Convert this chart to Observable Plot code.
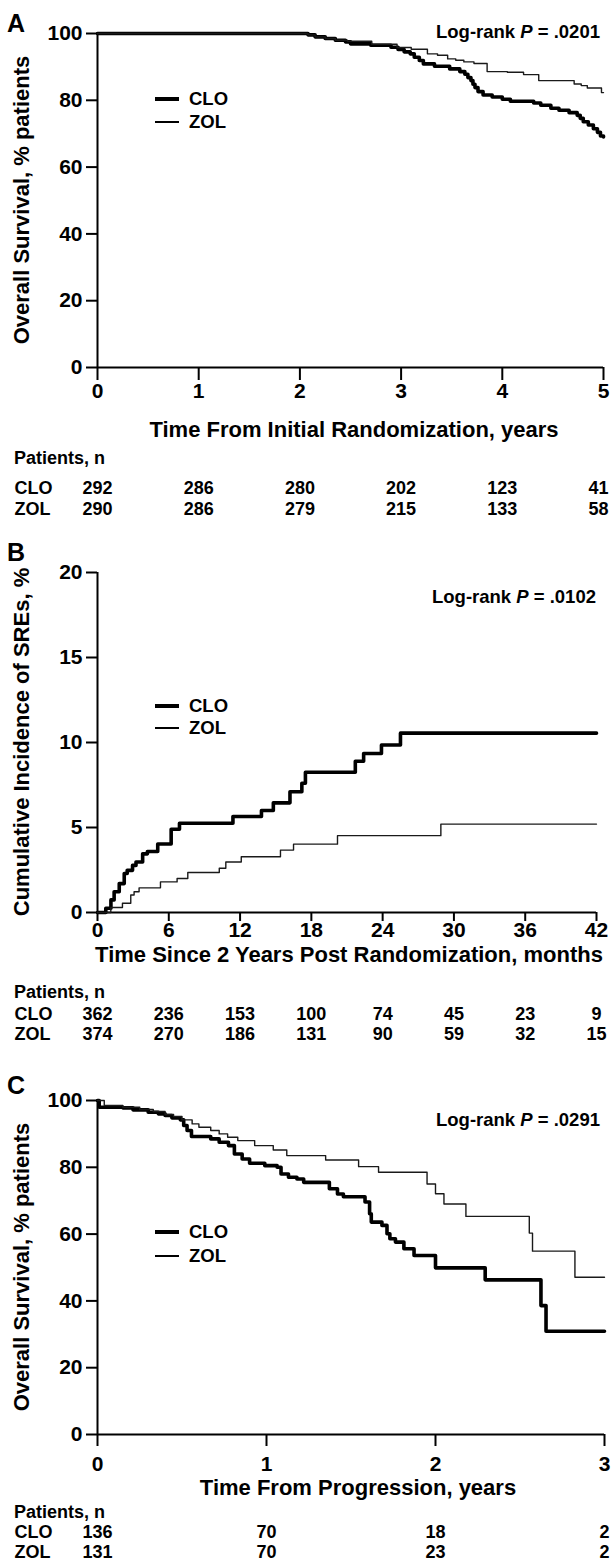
<!DOCTYPE html>
<html>
<head>
<meta charset="utf-8">
<script src="https://cdn.jsdelivr.net/npm/d3@7"></script>
<script src="https://cdn.jsdelivr.net/npm/@observablehq/plot@0.6"></script>
<style>
html, body { margin: 0; padding: 0; background: #fff; }
#root { position: relative; width: 611px; height: 1565px; overflow: hidden;
  font-family: "Liberation Sans", Arial, Helvetica, sans-serif; font-weight: bold; color: #000; }
.abs { position: absolute; white-space: nowrap; line-height: 1; }
#root svg { position: absolute; left: 0; overflow: visible; }
g[aria-label$="-axis tick"] { stroke-width: 2px; }
g[aria-label="x-axis"] .tick line, g[aria-label="y-axis"] .tick line { stroke-width: 2px; }
</style>
</head>
<body>
<div id="root"></div>
<script>
// ---------------- DATA ----------------
// Panel A: overall survival from initial randomization (years, % patients)
const timeA_CLO = [0, 2.08, 2.15, 2.25, 2.35, 2.45, 2.5, 2.7, 2.9, 2.97, 3.03, 3.09, 3.13, 3.18, 3.22, 3.33, 3.48, 3.58, 3.63, 3.66, 3.69, 3.71, 3.73, 3.76, 3.81, 3.9, 4.0, 4.08, 4.31, 4.38, 4.48, 4.56, 4.66, 4.74, 4.77, 4.8, 4.85, 4.9, 4.94, 4.97, 5.0];
const survA_CLO = [100, 99.6, 99.0, 98.5, 98.0, 97.5, 96.9, 96.5, 95.9, 95.2, 94.5, 93.9, 92.9, 91.9, 90.9, 90.2, 89.4, 88.6, 87.8, 86.8, 85.9, 84.8, 83.8, 82.6, 81.6, 81.0, 80.3, 79.7, 79.2, 78.5, 77.6, 77.0, 76.3, 75.5, 74.6, 73.6, 72.6, 71.5, 70.4, 69.3, 69.0];
const timeA_ZOL = [0, 2.08, 2.15, 2.25, 2.35, 2.47, 2.71, 2.96, 3.1, 3.26, 3.36, 3.46, 3.54, 3.62, 3.72, 3.85, 4.05, 4.21, 4.36, 4.71, 4.78, 4.84, 4.98, 5.0];
const survA_ZOL = [100, 99.6, 99.0, 98.5, 98.0, 97.7, 96.8, 95.8, 95.3, 93.9, 93.5, 92.4, 92.0, 91.5, 91.0, 88.6, 88.4, 87.7, 85.9, 84.9, 84.4, 83.7, 82.3, 82.3];
const ticksA_x = [0, 1, 2, 3, 4, 5];
const ticksA_y = [0, 20, 40, 60, 80, 100];
const riskA_CLO = [292, 286, 280, 202, 123, 41];
const riskA_ZOL = [290, 286, 279, 215, 133, 58];

// Panel B: cumulative incidence of SREs (months, %)
const timeB_CLO = [0, 0.7, 1.13, 1.4, 1.83, 2.25, 2.5, 2.95, 3.24, 3.8, 4.2, 5.07, 6.2, 6.9, 11.4, 13.8, 14.8, 16.2, 17.2, 17.5, 21.7, 22.4, 23.9, 25.5, 42];
const incB_CLO = [0, 0.25, 0.74, 1.22, 1.7, 2.29, 2.48, 2.77, 2.97, 3.45, 3.59, 4.03, 4.9, 5.25, 5.65, 6.0, 6.45, 7.1, 7.6, 8.25, 8.9, 9.35, 9.85, 10.55, 10.55];
const timeB_ZOL = [0, 1.12, 2.1, 2.8, 3.08, 3.5, 5.3, 6.7, 7.6, 10.25, 10.8, 12.1, 15.4, 16.5, 20.2, 28.9, 42];
const incB_ZOL = [0, 0.29, 0.54, 1.03, 1.22, 1.45, 1.8, 2.0, 2.35, 2.6, 2.97, 3.28, 3.67, 4.02, 4.52, 5.2, 5.2];
const ticksB_x = [0, 6, 12, 18, 24, 30, 36, 42];
const ticksB_y = [0, 5, 10, 15, 20];
const riskB_CLO = [362, 236, 153, 100, 74, 45, 23, 9];
const riskB_ZOL = [374, 270, 186, 131, 90, 59, 32, 15];

// Panel C: overall survival from progression (years, % patients)
const timeC_CLO = [0, 0.01, 0.15, 0.21, 0.30, 0.36, 0.40, 0.44, 0.49, 0.51, 0.53, 0.556, 0.67, 0.72, 0.775, 0.81, 0.856, 0.90, 0.99, 1.063, 1.086, 1.13, 1.18, 1.22, 1.372, 1.42, 1.455, 1.583, 1.61, 1.62, 1.683, 1.713, 1.73, 1.763, 1.813, 1.873, 2.0, 2.294, 2.624, 2.654, 3.0];
const survC_CLO = [100, 98.0, 97.8, 97.2, 96.5, 96.0, 95.5, 94.8, 94.2, 92.5, 91.0, 89.2, 88.5, 87.5, 86.5, 84.0, 82.5, 81.2, 80.5, 80.0, 78.0, 77.0, 76.5, 75.5, 73.6, 72.0, 71.2, 69.6, 66.1, 63.6, 62.6, 60.1, 58.6, 57.6, 55.6, 53.6, 49.9, 46.3, 38.6, 30.9, 30.9];
const timeC_ZOL = [0, 0.04, 0.15, 0.25, 0.33, 0.40, 0.45, 0.50, 0.56, 0.60, 0.67, 0.72, 0.77, 0.83, 0.93, 1.04, 1.12, 1.35, 1.545, 1.663, 1.95, 2.0, 2.05, 2.18, 2.555, 2.574, 2.825, 3.0];
const survC_ZOL = [100, 98.5, 98.0, 97.3, 96.7, 95.8, 95.2, 94.2, 93.0, 92.0, 91.0, 90.0, 89.0, 88.0, 86.5, 85.2, 83.5, 82.2, 80.2, 78.5, 75.0, 72.1, 69.0, 65.3, 60.3, 54.9, 47.1, 47.1];
const ticksC_x = [0, 1, 2, 3];
const ticksC_y = [0, 20, 40, 60, 80, 100];
const riskC_CLO = [136, 70, 18, 2];
const riskC_ZOL = [131, 70, 23, 2];

const groups = ["CLO", "ZOL"];
const panelLetters = ["A", "B", "C"];
const xTitles = ["Time From Initial Randomization, years", "Time Since 2 Years Post Randomization, months", "Time From Progression, years"];
const yTitles = ["Overall Survival, % patients", "Cumulative Incidence of SREs, %", "Overall Survival, % patients"];
const pValues = [".0201", ".0102", ".0291"];
const riskTitle = "Patients, n";

// ---------------- LAYOUT ----------------
const FONT = '"Liberation Sans", Arial, Helvetica, sans-serif';
const W = 611;
const root = document.getElementById("root");

const panels = [
  { letter: panelLetters[0], letterY: 23,
    xt: timeA_CLO, clo: survA_CLO, xtz: timeA_ZOL, zol: survA_ZOL,
    xTicks: ticksA_x, yTicks: ticksA_y, yDomain: [0, 100], xDomain: [0, 5],
    riskC: riskA_CLO, riskZ: riskA_ZOL, lastDx: -5,
    svgTop: 0, mt: 33, inner: 334, mb: 40, mr: 8, xTickSize: 13, xTickPad: 3,
    xTitleY: 430, xTitleX: 354, yTitleY: 200, pY: 32, pRight: 600,
    legY: [99, 122], patY: 458, tabTop: 475, tabRows: [13, 34], p: pValues[0],
    xTitle: xTitles[0], yTitle: yTitles[0] },
  { letter: panelLetters[1], letterY: 552,
    xt: timeB_CLO, clo: incB_CLO, xtz: timeB_ZOL, zol: incB_ZOL,
    xTicks: ticksB_x, yTicks: ticksB_y, yDomain: [0, 20], xDomain: [0, 42],
    riskC: riskB_CLO, riskZ: riskB_ZOL, lastDx: 0,
    svgTop: 540, mt: 32, inner: 340, mb: 36, mr: 15, xTickSize: 9, xTickPad: 1,
    xTitleY: 955, xTitleX: 349, yTitleY: 742, pY: 597, pRight: 596,
    legY: [706, 728], patY: 992, tabTop: 1001, tabRows: [13, 33], p: pValues[1],
    xTitle: xTitles[1], yTitle: yTitles[1] },
  { letter: panelLetters[2], letterY: 1085,
    xt: timeC_CLO, clo: survC_CLO, xtz: timeC_ZOL, zol: survC_ZOL,
    xTicks: ticksC_x, yTicks: ticksC_y, yDomain: [0, 100], xDomain: [0, 3],
    riskC: riskC_CLO, riskZ: riskC_ZOL, lastDx: 0,
    svgTop: 1070, mt: 30, inner: 334, mb: 45, mr: 7, xTickSize: 12, xTickPad: 10,
    xTitleY: 1488, xTitleX: 358, yTitleY: 1267, pY: 1120, pRight: 600,
    legY: [1232, 1256], patY: 1512, tabTop: 1519, tabRows: [13, 33], p: pValues[2],
    xTitle: xTitles[2], yTitle: yTitles[2] }
];

function addText(html, o) {
  const d = document.createElement("div");
  d.className = "abs";
  d.innerHTML = html;
  d.style.fontSize = o.size + "px";
  d.style.top = (o.cy - 0.49 * o.size) + "px";
  if (o.right != null) { d.style.right = (W - o.right) + "px"; }
  else if (o.cx != null) { d.style.left = (o.cx - 300) + "px"; d.style.width = "600px"; d.style.textAlign = "center"; }
  else { d.style.left = o.left + "px"; }
  root.appendChild(d);
  return d;
}

function addYTitle(text, cx, cy, size) {
  const d = document.createElement("div");
  d.className = "abs";
  d.textContent = text;
  d.style.fontSize = size + "px";
  d.style.width = "420px";
  d.style.textAlign = "center";
  d.style.left = (cx - 210) + "px";
  d.style.top = (cy - size / 2) + "px";
  d.style.transform = "rotate(-90deg)";
  root.appendChild(d);
}

function addLegendLine(x1, x2, cy, thick) {
  const d = document.createElement("div");
  d.style.position = "absolute";
  d.style.left = x1 + "px";
  d.style.width = (x2 - x1) + "px";
  d.style.top = (cy - thick / 2) + "px";
  d.style.height = thick + "px";
  d.style.background = "#000";
  root.appendChild(d);
}

panels.forEach(P => {
  const cloRows = P.xt.map((t, i) => ({ t, v: P.clo[i] }));
  const zolRows = P.xtz.map((t, i) => ({ t, v: P.zol[i] }));
  const svgH = P.mt + P.inner + P.mb;
  const chart = Plot.plot({
    width: W, height: svgH,
    marginLeft: 97, marginRight: P.mr, marginTop: P.mt, marginBottom: P.mb,
    x: { domain: P.xDomain, ticks: P.xTicks, tickSize: P.xTickSize, tickPadding: P.xTickPad, label: null, tickFormat: d => String(d) },
    y: { domain: P.yDomain, ticks: P.yTicks, tickSize: 11, tickPadding: 4, label: null, tickFormat: d => String(d) },
    style: { fontFamily: FONT, fontSize: "21px", fontWeight: "bold", color: "#000", background: "transparent", overflow: "visible" },
    marks: [
      Plot.ruleY([P.yDomain[0]], { stroke: "#000", strokeWidth: 2 }),
      Plot.ruleX([P.xDomain[0]], { stroke: "#000", strokeWidth: 2 }),
      Plot.line(cloRows, { x: "t", y: "v", curve: "step-after", stroke: "#000", strokeWidth: 3.6 }),
      Plot.line(zolRows, { x: "t", y: "v", curve: "step-after", stroke: "#1a1a1a", strokeWidth: 1.4 })
    ]
  });
  chart.style.top = P.svgTop + "px";
  root.appendChild(chart);

  // at-risk table, positioned on the same x scale
  const riskRows = [];
  const lastT = P.xTicks[P.xTicks.length - 1];
  P.xTicks.forEach((t, i) => {
    riskRows.push({ g: groups[0], t, n: P.riskC[i] });
    riskRows.push({ g: groups[1], t, n: P.riskZ[i] });
  });
  const tab = Plot.plot({
    width: W, height: 44,
    marginLeft: 97, marginRight: P.mr, marginTop: 0, marginBottom: 0,
    x: { domain: P.xDomain, axis: null },
    y: { type: "point", domain: groups, range: P.tabRows, padding: 0, axis: null },
    style: { fontFamily: FONT, fontWeight: "bold", color: "#000", background: "transparent", overflow: "visible" },
    marks: [
      Plot.text(riskRows.filter(d => d.t !== lastT), { x: "t", y: "g", text: d => String(d.n), fontSize: 18, fontWeight: "bold", fill: "#000" }),
      Plot.text(riskRows.filter(d => d.t === lastT), { x: "t", y: "g", text: d => String(d.n), dx: P.lastDx, fontSize: 18, fontWeight: "bold", fill: "#000" }),
      Plot.text(groups, { y: d => d, text: d => d, frameAnchor: "left", dx: -83, textAnchor: "start", fontSize: 18, fontWeight: "bold", fill: "#000" })
    ]
  });
  tab.style.top = P.tabTop + "px";
  root.appendChild(tab);

  // texts
  addText(P.letter, { left: 7, cy: P.letterY, size: 25 });
  addText("Log-rank <i>P</i> = " + P.p, { right: P.pRight, cy: P.pY, size: 18.5 });
  addText(P.xTitle, { cx: P.xTitleX, cy: P.xTitleY, size: 22 });
  addYTitle(P.yTitle, 22, P.yTitleY, 22);
  addText(riskTitle, { left: 14, cy: P.patY, size: 18 });

  // legend
  addLegendLine(155, 179, P.legY[0], 4);
  addLegendLine(155, 179, P.legY[1], 1.5);
  addText(groups[0], { left: 189, cy: P.legY[0], size: 18.5 });
  addText(groups[1], { left: 189, cy: P.legY[1], size: 18.5 });
});
</script>
</body>
</html>
